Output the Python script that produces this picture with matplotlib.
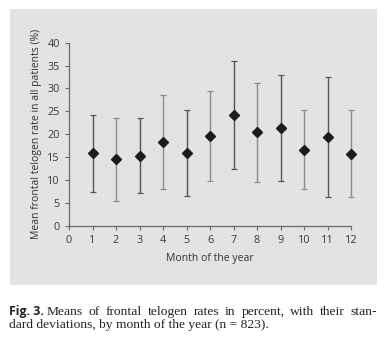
import matplotlib
matplotlib.use("Agg")
import matplotlib.pyplot as plt

# Monthly means of frontal telogen rate (%) and their standard deviations
months = [1, 2, 3, 4, 5, 6, 7, 8, 9, 10, 11, 12]
means = [15.8, 14.5, 15.3, 18.3, 15.9, 19.6, 24.2, 20.4, 21.3, 16.6, 19.3, 15.7]
sds = [8.5, 9.1, 8.2, 10.2, 9.4, 9.8, 11.8, 10.8, 11.6, 8.6, 13.1, 9.5]
x_ticks = list(range(0, 13))
y_ticks = list(range(0, 41, 5))

W, H = 386, 347
fig = plt.figure(figsize=(W / 100, H / 100), dpi=100)
fig.patch.set_facecolor("white")

# grey panel behind the chart
bg = fig.add_axes([10 / W, 1 - 285 / H, 367 / W, 276 / H], zorder=0)
bg.set_facecolor("#e2e3e5")
bg.set_xticks([])
bg.set_yticks([])
for s in bg.spines.values():
    s.set_visible(False)

ax = fig.add_axes([69 / W, 1 - 225.7 / H, 282 / W, 183 / H], zorder=1)
ax.set_facecolor("none")

sans = "Open Sans"
axis_col = "#6a6a6a"

for i, (m, mu, sd) in enumerate(zip(months, means, sds)):
    col = "#555555" if i % 2 == 0 else "#8c8c8c"
    ax.errorbar([m], [mu], yerr=[sd], fmt="none", ecolor=col, elinewidth=1.0,
                capsize=2.5, capthick=0.9, clip_on=False, zorder=2)
ax.plot(months, means, linestyle="none", marker="D", markersize=5.6,
        color="#1c1c1c", clip_on=False, zorder=3)

ax.set_xlim(0, 12)
ax.set_ylim(0, 40)
ax.set_xticks(x_ticks)
ax.set_yticks(y_ticks)
for s in ("top", "right"):
    ax.spines[s].set_visible(False)
for s in ("left", "bottom"):
    ax.spines[s].set_color(axis_col)
    ax.spines[s].set_linewidth(0.9)
ax.tick_params(direction="out", length=3, width=0.8, color=axis_col,
               labelsize=7.8, labelcolor="#3a3a3a", pad=3.5)
for lab in ax.get_xticklabels() + ax.get_yticklabels():
    lab.set_fontfamily(sans)

ax.set_xlabel("Month of the year", fontsize=7.5, fontfamily=sans,
              color="#333333")
ax.set_ylabel("Mean frontal telogen rate in all patients (%)", fontsize=7.5,
              fontfamily=sans, color="#333333")
ax.xaxis.set_label_coords(0.5, (225.7 - 258) / 183)
ax.yaxis.set_label_coords((37 - 69) / 282, 0.5)
ax.xaxis.label.set_va("center")
ax.yaxis.label.set_va("center")

# caption below the panel; the first line is justified to the panel width
serif = "Liberation Serif"
cap_size = 9.7
cap_col = "#222222"
fig.text(9 / W, 1 - 312 / H, "Fig. 3.", fontsize=8.8, fontweight="bold",
         fontfamily=sans, color=cap_col, va="center")

renderer = fig.canvas.get_renderer()
words = "Means of frontal telogen rates in percent, with their stan-".split()
x0, x1 = 47, 377
word_texts = [fig.text(0, 1 - 312 / H, w, fontsize=cap_size, fontfamily=serif,
                       color=cap_col, va="center") for w in words]
widths = [t.get_window_extent(renderer).width for t in word_texts]
gap = (x1 - x0 - sum(widths)) / (len(words) - 1)
x = x0
for t, w in zip(word_texts, widths):
    t.set_x(x / W)
    x += w + gap

fig.text(9 / W, 1 - 325 / H,
         "dard deviations, by month of the year (n = 823).",
         fontsize=cap_size, fontfamily=serif, color=cap_col, va="center")

fig.savefig("out.png", dpi=100)
